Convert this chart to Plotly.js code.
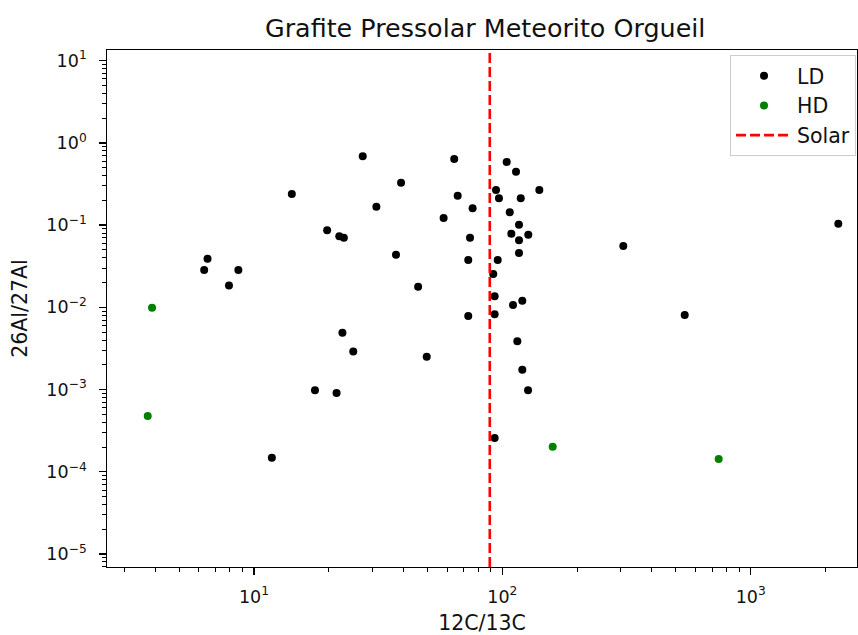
<!DOCTYPE html>
<html><head><meta charset="utf-8">
<script src="https://cdn.plot.ly/plotly-3.0.1.min.js"></script>
<style>html,body{margin:0;padding:0;background:#fff}</style>
</head><body><div id="chart" style="width:858px;height:635px"></div>
<script>
// LD grains: 12C/13C and 26Al/27Al
const ldX = [14.2, 6.5, 6.3, 8.65, 7.93, 11.8, 17.6, 21.5, 22.7, 25.1,
             19.7, 22.05, 23.0, 27.4, 31.1, 37.3, 39.1, 45.8, 49.6, 58.0,
             64.0, 66.1, 72.9, 72.9, 74.1, 75.9, 91.9, 93.1, 93.1, 93.1,
             94.3, 95.8, 96.9, 104.1, 107.1, 108.7, 110.4, 113.5, 114.9, 116.7,
             116.7, 116.7, 118.6, 120.3, 120.3, 127.2, 126.9, 140.9, 306.9, 542.4,
             2253];
const ldY = [0.239, 0.039, 0.0284, 0.0284, 0.0185, 0.000148, 0.00098, 0.00091, 0.0049, 0.0029,
             0.0865, 0.073, 0.0703, 0.687, 0.1675, 0.0437, 0.328, 0.0178, 0.00251, 0.122,
             0.637, 0.228, 0.0376, 0.00785, 0.0703, 0.160, 0.0254, 0.0136, 0.00823, 0.000258,
             0.267, 0.0376, 0.212, 0.586, 0.143, 0.0787, 0.0107, 0.446, 0.00386, 0.101,
             0.0654, 0.0458, 0.212, 0.01205, 0.001745, 0.0765, 0.00098, 0.267, 0.0557, 0.00807,
             0.104];
// HD grains
const hdX = [3.886, 3.733, 159.5, 743.1];
const hdY = [0.0099, 0.000477, 0.000202, 0.000143];
// Solar 12C/13C
const solarRatio = 89;

const xTickVals = [10, 100, 1000];
const xTickText = ['10<sup>1</sup>', '10<sup>2</sup>', '10<sup>3</sup>'];
const yTickVals = [10, 1, 0.1, 0.01, 0.001, 0.0001, 0.00001];
const yTickText = ['10<sup>1</sup>', '10<sup>0</sup>', '10<sup>−1</sup>', '10<sup>−2</sup>',
                   '10<sup>−3</sup>', '10<sup>−4</sup>', '10<sup>−5</sup>'];
const xRange = [0.4081, 3.428];
const yRange = [-5.158, 1.130];

function minorVals(lo, hi) {
  const v = [];
  for (let e = Math.floor(lo); e <= Math.ceil(hi); e++) {
    for (let m = 2; m <= 9; m++) v.push(m * Math.pow(10, e));
  }
  return v;
}

const FONT = 'DejaVu Sans, sans-serif';
const traces = [
  {x: ldX, y: ldY, type: 'scatter', mode: 'markers', name: 'LD', legendgroup: 'a',
   marker: {color: 'black', size: 8}},
  {x: hdX, y: hdY, type: 'scatter', mode: 'markers', name: 'HD', legendgroup: 'b',
   marker: {color: 'green', size: 8}},
  {x: [solarRatio, solarRatio], y: [Math.pow(10, yRange[0]), Math.pow(10, yRange[1])],
   type: 'scatter', mode: 'lines', name: 'Solar', legendgroup: 'c',
   line: {color: 'red', width: 2.6, dash: '10px,4px'}}
];

const axisCommon = {
  type: 'log', showgrid: false, zeroline: false,
  showline: true, mirror: true, linecolor: 'black', linewidth: 1.3,
  ticks: 'outside', ticklen: 6.5, tickwidth: 1.3, tickcolor: 'black',
  tickfont: {family: FONT, size: 17.5, color: '#111'},
  tickmode: 'array'
};

const layout = {
  width: 858, height: 635,
  margin: {l: 107, r: 1, t: 50, b: 68},
  paper_bgcolor: 'white', plot_bgcolor: 'white',
  title: {text: 'Grafite Pressolar Meteorito Orgueil', font: {family: FONT, size: 25.4, color: '#111'},
          x: 0.5655, xanchor: 'center', y: 1 - 28 / 635, yanchor: 'middle', yref: 'container'},
  xaxis: Object.assign({}, axisCommon, {
    range: xRange, tickvals: xTickVals, ticktext: xTickText, ticklabelstandoff: 7,
    minor: {ticks: 'outside', ticklen: 3.5, tickwidth: 1, tickcolor: 'black',
            tickvals: minorVals(xRange[0], xRange[1])},
    title: {text: '12C/13C', font: {family: FONT, size: 20.5, color: '#111'}, standoff: 12}
  }),
  yaxis: Object.assign({}, axisCommon, {
    range: yRange, tickvals: yTickVals, ticktext: yTickText, ticklabelstandoff: 9,
    minor: {ticks: 'outside', ticklen: 3.5, tickwidth: 1, tickcolor: 'black',
            tickvals: minorVals(yRange[0], yRange[1])},
    title: {text: '26Al/27Al', font: {family: FONT, size: 20.5, color: '#111'}, standoff: 13}
  }),
  showlegend: true,
  legend: {x: 0.9987, xanchor: 'right', y: 0.9903, yanchor: 'top',
           bgcolor: 'rgba(255,255,255,0.8)', bordercolor: '#cccccc', borderwidth: 1,
           font: {family: FONT, size: 20.5, color: '#111'},
           itemwidth: 56, traceorder: 'grouped', tracegroupgap: 0}
};

Plotly.newPlot('chart', traces, layout, {staticPlot: true, displayModeBar: false});
</script>
</body></html>
